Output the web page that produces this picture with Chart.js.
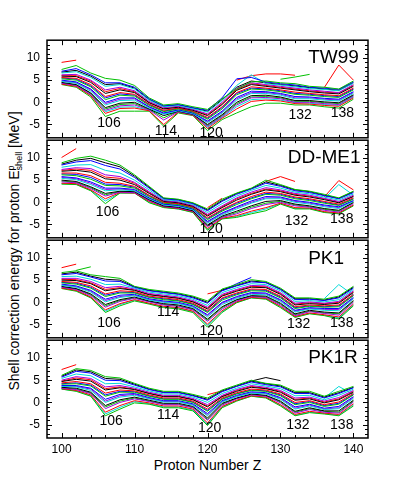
<!DOCTYPE html>
<html><head><meta charset="utf-8">
<script src="https://cdn.jsdelivr.net/npm/chart.js@4.4.0/dist/chart.umd.min.js"></script>
<style>
html,body{margin:0;padding:0;background:#fff;width:409px;height:502px;overflow:hidden;position:relative;font-family:"Liberation Sans",Arial,sans-serif;color:#000;}
canvas{position:absolute;left:0;}
#ytitle{position:absolute;left:14px;top:251px;transform:translate(-50%,-50%) rotate(-90deg);white-space:nowrap;font-size:14px;line-height:18px;}
#xtitle{position:absolute;left:207.5px;top:465px;transform:translate(-50%,-50%);font-size:14px;white-space:nowrap;}
.ss{display:inline-block;vertical-align:-3px;font-size:9px;line-height:8px;text-align:left;}
.ss span{display:block;}
</style></head>
<body>
<div id="ytitle">Shell correction energy for proton E<span class="ss"><span>p</span><span>shell</span></span> [MeV]</div>
<div id="xtitle">Proton Number Z</div>
<script>
// ---------- data ----------
const Z = [100,102,104,106,108,110,112,114,116,118,120,122,124,126,128,130,132,134,136,138,140];
const X_TICKS = [100,110,120,130,140];
const Y_TICKS = [-5,0,5,10];

const TW99 = [
 [7.4,8.3,6.6,5.4,5.0,3.8,1.0,-0.6,-0.3,-1.0,-1.6,0.8,3.0,4.6,4.8,4.4,4.2,3.6,3.4,3.0,4.8],
 [7.0,7.6,6.2,4.4,4.4,3.4,0.8,-0.8,-0.5,-1.2,-1.8,1.0,5.3,5.6,4.6,4.2,3.9,3.4,3.2,2.9,4.6],
 [6.6,6.9,5.6,3.6,4.0,3.0,0.5,-1.0,-0.7,-1.4,-2.2,0.4,3.8,6.2,4.2,3.9,3.5,3.1,2.9,2.6,4.3],
 [6.2,6.3,5.0,2.8,3.4,2.6,0.2,-1.2,-0.9,-1.6,-2.6,0.0,3.2,4.4,4.0,3.6,3.2,2.8,2.5,2.2,4.0],
 [5.9,5.8,4.5,2.0,2.8,2.2,-0.1,-1.5,-1.1,-1.8,-3.0,-0.5,2.7,4.0,3.6,3.2,2.8,2.4,2.1,1.9,3.6],
 [5.6,5.4,4.0,1.3,2.2,1.8,-0.4,-1.8,-1.3,-2.0,-3.4,-1.0,2.2,3.5,3.2,2.8,2.3,2.0,1.7,1.5,3.2],
 [5.3,5.0,3.5,0.6,1.6,1.4,-0.7,-2.1,-1.5,-2.2,-3.8,-1.5,1.7,3.0,2.8,2.4,1.8,1.6,1.3,1.1,2.8],
 [5.0,4.6,3.0,0.0,1.0,1.0,-1.0,-2.4,-1.7,-2.4,-4.2,-2.0,1.1,2.5,2.4,2.0,1.3,1.2,0.9,0.7,2.4],
 [4.7,4.3,2.5,-0.6,0.4,0.5,-1.3,-2.7,-1.9,-2.6,-4.6,-2.4,0.5,2.0,2.0,1.6,0.8,0.8,0.5,0.3,2.0],
 [4.5,4.0,2.1,-1.2,-0.2,0.0,-1.5,-3.0,-2.0,-2.7,-5.0,-2.8,0.0,1.5,1.6,1.2,0.4,0.4,0.1,-0.1,1.7],
 [4.3,3.8,1.8,-1.8,-0.8,-0.6,-1.7,-4.0,-2.1,-2.8,-5.4,-3.2,-0.6,1.0,1.1,0.8,0.0,0.0,-0.3,-0.5,1.4],
 [4.1,3.6,1.5,-2.5,-1.4,-1.3,-1.9,-5.0,-2.2,-2.9,-5.9,-3.6,-1.5,0.2,0.5,0.3,-0.3,-0.4,-0.7,-0.9,1.0],
 [4.0,3.4,1.2,-3.2,-2.0,-2.0,-2.0,-5.4,-2.4,-3.0,-6.4,-3.9,-2.4,-1.0,-0.2,-0.2,-0.6,-0.6,-1.0,-1.3,0.7],
 [6.8,7.2,5.9,4.0,4.2,3.2,0.6,-0.9,-0.6,-1.3,-2.0,0.6,3.4,4.8,4.4,4.0,3.7,3.3,3.0,2.7,4.4],
 [6.0,6.0,4.8,2.4,3.1,2.4,0.0,-1.4,-1.0,-1.7,-2.8,-0.3,2.9,4.2,3.8,3.4,3.0,2.6,2.3,2.1,3.8],
 [5.5,5.2,3.7,1.0,1.9,1.6,-0.5,-2.0,-1.4,-2.1,-3.6,-1.2,2.0,3.2,3.0,2.6,2.0,1.8,1.5,1.3,3.0],
 [4.8,4.4,2.8,-0.3,0.7,0.8,-1.1,-2.5,-1.8,-2.5,-4.4,-2.2,0.8,2.2,2.2,1.8,1.0,1.0,0.7,0.5,2.2],
 [4.4,3.9,2.0,-1.5,-0.5,-0.3,-1.6,-3.5,-2.0,-2.7,-5.2,-3.0,-0.3,1.2,1.3,1.0,0.2,0.2,-0.1,-0.3,1.5],
 [4.2,3.7,1.6,-2.1,-1.1,-1.0,-1.8,-2.6,-2.3,-2.8,-5.6,-3.4,-1.0,0.6,0.8,0.5,-0.1,-0.2,-0.5,-0.7,1.2]
];
const TW99_EX_Z = [[100,102],[124,126,128,130,132],[130,132,134],[136,138,140]];
const TW99_EX_E = [[9.0,9.5],[5.0,6.0,6.4,6.4,6.1],[5.2,5.7,6.3],[3.3,8.4,5.0]];

const DDME1 = [
 [8.9,9.9,10.4,9.5,8.4,6.2,3.6,1.0,0.7,-0.1,-1.5,0.7,2.1,3.2,5.0,4.0,2.9,2.5,1.8,1.0,2.5],
 [8.4,9.1,9.4,8.3,7.5,5.6,3.2,0.8,0.5,-0.3,-1.9,0.2,1.8,3.0,4.3,3.6,2.6,2.2,1.5,0.8,2.2],
 [7.9,8.4,8.5,7.2,6.6,5.0,2.8,0.6,0.3,-0.5,-2.3,-0.3,1.4,2.7,3.8,3.2,2.3,1.9,1.2,0.5,1.9],
 [7.4,7.8,7.6,6.2,5.8,4.5,2.4,0.4,0.1,-0.7,-2.7,-0.8,1.0,2.3,3.3,2.8,2.0,1.6,0.9,0.2,1.6],
 [7.0,7.2,6.8,5.3,5.0,4.0,2.0,0.2,-0.1,-0.9,-3.1,-1.2,0.5,1.8,2.8,2.4,1.6,1.2,0.6,-0.1,1.3],
 [6.6,6.6,6.0,4.5,4.3,3.6,1.6,0.0,-0.3,-1.1,-3.5,-1.6,0.0,1.3,2.3,2.0,1.2,0.8,0.2,-0.4,1.0],
 [6.2,6.0,5.2,3.8,3.7,3.2,1.3,-0.2,-0.5,-1.3,-3.9,-2.0,-0.5,0.8,1.8,1.6,0.8,0.4,-0.2,-0.7,0.7],
 [5.8,5.5,4.6,3.2,3.2,2.9,1.0,-0.4,-0.7,-1.5,-4.3,-2.4,-1.0,0.3,1.3,1.2,0.4,0.0,-0.6,-1.0,0.4],
 [5.4,5.1,4.0,2.6,2.8,2.6,0.8,-0.6,-0.9,-1.7,-4.7,-2.8,-1.5,-0.2,0.8,0.8,0.0,-0.4,-1.0,-1.4,0.2],
 [5.0,4.7,3.5,2.0,2.5,2.4,0.6,-0.8,-1.1,-1.9,-5.1,-3.1,-2.0,-0.8,0.2,0.4,-0.4,-0.8,-1.4,-1.8,0.0],
 [4.6,4.4,3.1,1.4,2.3,2.2,0.4,-0.9,-1.3,-2.0,-5.5,-3.4,-2.6,-1.4,-0.5,0.0,-0.8,-1.1,-1.8,-2.2,-0.3],
 [4.3,4.2,2.8,0.8,2.2,2.1,0.2,-1.0,-1.4,-2.1,-5.9,-3.6,-3.0,-2.0,-1.2,-0.2,-1.2,-1.3,-2.1,-2.4,-0.6],
 [4.1,4.0,2.6,-0.3,2.1,2.1,-0.1,-1.2,-1.5,-2.3,-6.3,-3.75,-3.4,-2.6,-1.9,-0.4,-1.5,-1.5,-2.3,-2.6,-0.8],
 [8.6,9.5,9.9,8.9,8.0,5.9,3.4,0.9,0.6,-0.2,-1.7,0.4,2.0,3.1,4.6,3.8,2.8,2.4,1.6,0.9,2.4],
 [7.2,7.5,7.2,5.7,5.4,4.3,2.2,0.3,0.0,-0.8,-2.9,-1.0,0.8,2.0,3.0,2.6,1.8,1.4,0.8,0.0,1.4],
 [6.4,6.3,5.6,4.1,4.0,3.4,1.5,-0.1,-0.4,-1.2,-3.7,-1.8,-0.2,1.0,2.0,1.8,1.0,0.6,0.0,-0.6,0.8],
 [5.6,5.3,4.3,2.9,3.0,2.7,0.9,-0.5,-0.8,-1.6,-4.5,-2.6,-1.2,0.0,1.0,1.0,0.2,-0.2,-0.8,-1.2,0.3],
 [4.8,4.5,3.3,1.7,2.4,2.3,0.5,-0.8,-1.2,-1.9,-5.3,-3.3,-2.3,-1.1,-0.2,0.2,-0.6,-1.0,-1.6,-2.0,-0.1],
 [4.2,4.1,2.7,0.3,2.1,2.1,0.0,-1.1,-1.5,-2.2,-6.1,-3.7,-3.2,-2.3,-1.5,-0.3,-1.4,-1.4,-2.2,-2.5,-0.7]
];
const DDME1_EX_Z = [[100,102],[120,122],[128,130,132],[136,138,140],[136,138,140]];
const DDME1_EX_E = [[10.1,12.1],[-1.2,0.9],[4.7,5.8,4.7],[1.2,4.9,2.8],[0.8,4.0,1.6]];

const PK1 = [
 [6.7,7.1,6.2,5.8,5.4,3.6,2.9,2.5,2.1,1.4,0.3,3.0,4.0,5.1,4.7,3.2,1.0,1.0,0.7,1.4,3.6],
 [6.2,6.5,5.7,4.8,4.7,3.4,2.6,2.2,1.8,1.0,-0.2,2.6,3.7,4.6,4.4,2.9,0.6,0.7,0.4,1.0,3.2],
 [5.8,5.9,5.2,4.0,4.1,3.2,2.3,1.9,1.5,0.7,-0.7,2.2,3.3,4.2,4.0,2.6,0.2,0.4,0.1,0.6,2.9],
 [5.4,5.4,4.7,3.3,3.6,3.0,2.0,1.6,1.2,0.4,-1.1,1.8,2.9,3.8,3.7,2.2,-0.2,0.1,-0.2,0.2,2.6],
 [5.0,4.9,4.2,2.6,3.1,2.7,1.7,1.3,0.9,0.1,-1.5,1.4,2.5,3.4,3.3,1.8,-0.6,-0.3,-0.5,-0.2,2.2],
 [4.7,4.5,3.7,1.9,2.6,2.4,1.4,1.0,0.6,-0.2,-1.9,1.0,2.1,3.0,2.9,1.4,-1.0,-0.6,-0.8,-0.6,1.8],
 [4.4,4.1,3.2,1.3,2.1,2.1,1.1,0.6,0.3,-0.5,-2.3,0.5,1.7,2.6,2.5,1.0,-1.4,-0.9,-1.1,-1.0,1.5],
 [4.1,3.7,2.7,0.7,1.6,1.8,0.8,0.3,0.0,-0.8,-2.8,0.0,1.3,2.2,2.1,0.6,-1.8,-1.2,-1.4,-1.4,1.1],
 [3.8,3.4,2.3,0.1,1.1,1.5,0.5,0.0,-0.3,-1.1,-3.3,-0.5,0.9,1.8,1.7,0.2,-2.2,-1.5,-1.8,-1.9,0.8],
 [3.6,3.1,1.9,-0.5,0.6,1.2,0.3,-0.3,-0.6,-1.4,-3.8,-1.0,0.6,1.5,1.4,-0.2,-2.6,-1.8,-2.2,-2.4,0.4],
 [3.4,2.9,1.5,-1.1,0.2,0.9,0.1,-0.6,-0.9,-1.7,-4.3,-1.5,0.3,1.3,1.1,-0.6,-3.0,-2.1,-2.5,-2.9,0.0],
 [3.2,2.7,1.2,-1.7,-0.3,0.6,-0.2,-0.9,-1.2,-2.0,-4.9,-1.9,0.1,1.1,0.9,-0.9,-3.2,-2.4,-2.8,-3.3,-0.4],
 [3.1,2.5,1.0,-2.3,-0.8,0.3,-0.4,-1.2,-1.5,-2.3,-5.6,-2.3,-0.1,1.0,0.7,-1.2,-3.4,-2.6,-3.0,-3.75,-0.8],
 [6.4,6.8,5.9,5.2,5.0,3.5,2.7,2.3,1.9,1.2,0.0,2.8,3.8,4.8,4.5,3.0,0.8,0.8,0.5,1.2,3.4],
 [5.2,5.1,4.4,2.9,3.3,2.8,1.8,1.4,1.0,0.2,-1.3,1.6,2.7,3.6,3.5,2.0,-0.4,-0.1,-0.3,0.0,2.4],
 [4.5,4.3,3.4,1.6,2.3,2.2,1.2,0.8,0.4,-0.4,-2.1,0.8,1.9,2.8,2.7,1.2,-1.2,-0.8,-1.0,-0.8,1.6],
 [3.9,3.5,2.5,0.4,1.3,1.6,0.6,0.1,-0.2,-1.0,-3.0,-0.2,1.1,2.0,1.9,0.4,-2.0,-1.4,-1.6,-1.6,0.9],
 [3.5,3.0,1.7,-0.8,0.4,1.0,0.2,-0.5,-0.8,-1.6,-4.0,-1.2,0.5,1.4,1.2,-0.4,-2.8,-2.0,-2.4,-2.6,0.2],
 [3.3,2.6,1.1,-2.0,-0.5,0.5,-0.3,-1.0,-1.3,-2.1,-5.2,-2.1,0.0,1.0,0.8,-1.0,-3.3,-2.5,-2.9,-3.5,-0.6]
];
const PK1_EX_Z = [[100,102],[102,104],[122,124,126],[120,122],[136,138,140]];
const PK1_EX_E = [[7.8,8.6],[7.2,8.0],[2.6,4.2,5.6],[1.9,2.7],[0.8,4.0,1.6]];

const PK1R = [
 [6.1,7.6,7.2,5.8,5.5,4.3,3.2,2.5,2.5,1.8,1.0,2.8,3.9,5.0,4.3,3.9,2.5,2.5,1.4,2.5,3.6],
 [5.7,7.0,6.6,5.0,4.9,3.9,2.9,2.2,2.2,1.5,0.5,2.4,3.6,4.6,4.0,3.5,2.0,2.0,1.0,2.0,3.3],
 [5.4,6.4,6.0,4.2,4.3,3.5,2.6,1.9,1.9,1.2,0.0,2.0,3.2,4.2,3.7,3.1,1.5,1.6,0.6,1.6,3.0],
 [5.0,5.8,5.4,3.5,3.8,3.2,2.3,1.6,1.6,0.9,-0.5,1.6,2.9,3.8,3.4,2.7,1.0,1.2,0.3,1.1,2.7],
 [4.7,5.2,4.8,2.8,3.3,2.9,2.0,1.3,1.3,0.6,-1.0,1.3,2.5,3.4,3.1,2.3,0.5,0.8,-0.1,0.6,2.3],
 [4.4,4.7,4.2,2.1,2.8,2.6,1.7,1.0,1.0,0.3,-1.5,1.0,2.2,3.0,2.8,1.9,0.0,0.4,-0.5,0.1,2.0],
 [4.1,4.2,3.7,1.4,2.3,2.3,1.4,0.7,0.7,0.0,-2.0,0.7,1.9,2.7,2.5,1.5,-0.5,0.0,-0.9,-0.4,1.7],
 [3.8,3.8,3.2,0.7,1.8,2.0,1.1,0.4,0.4,-0.3,-2.5,0.4,1.6,2.4,2.2,1.1,-1.0,-0.4,-1.3,-0.9,1.3],
 [3.6,3.5,2.7,0.0,1.2,1.6,0.8,0.1,0.1,-0.6,-3.0,0.1,1.3,2.1,1.9,0.7,-1.5,-0.8,-1.6,-1.4,0.9],
 [3.4,3.2,2.3,-0.7,0.6,1.2,0.5,-0.2,-0.2,-0.9,-3.5,-0.2,1.0,1.9,1.6,0.3,-2.0,-1.2,-1.9,-1.9,0.5],
 [3.2,2.9,2.0,-1.4,0.0,0.8,0.2,-0.5,-0.5,-1.2,-4.0,-0.6,0.8,1.7,1.4,-0.1,-2.4,-1.6,-2.2,-2.4,0.1],
 [3.1,2.7,1.7,-2.2,-0.7,0.4,-0.1,-0.8,-0.8,-1.5,-4.6,-0.9,0.5,1.5,1.2,-0.5,-2.7,-2.0,-2.4,-2.7,-0.3],
 [3.0,2.5,1.4,-3.0,-1.5,-0.1,-0.4,-1.2,-1.2,-1.9,-5.2,-1.2,0.3,1.4,1.0,-0.8,-3.0,-2.3,-2.6,-3.0,-0.8],
 [5.9,7.3,6.9,5.4,5.2,4.1,3.0,2.3,2.3,1.6,0.7,2.6,3.7,4.8,4.2,3.7,2.2,2.2,1.2,2.2,3.4],
 [4.8,5.5,5.1,3.1,3.5,3.0,2.1,1.4,1.4,0.7,-0.8,1.4,2.7,3.6,3.2,2.5,0.7,1.0,0.1,0.8,2.5],
 [4.2,4.4,3.9,1.7,2.5,2.4,1.5,0.8,0.8,0.1,-1.8,0.8,2.0,2.8,2.6,1.7,-0.3,0.2,-0.7,-0.2,1.8],
 [3.7,3.6,3.0,0.3,1.5,1.8,0.9,0.2,0.2,-0.5,-2.8,0.2,1.4,2.2,2.0,0.9,-1.3,-0.6,-1.5,-1.2,1.1],
 [3.3,3.0,2.1,-1.0,0.3,1.0,0.3,-0.4,-0.4,-1.1,-3.8,-0.4,0.9,1.8,1.5,0.1,-2.2,-1.4,-2.0,-2.2,0.3],
 [3.0,2.6,1.5,-2.6,-1.1,0.2,-0.3,-1.0,-1.0,-1.7,-4.9,-1.0,0.4,1.4,1.1,-0.6,-2.9,-2.2,-2.5,-2.9,-0.5]
];
const PK1R_EX_Z = [[100,102],[120,122],[126,128,130],[136,138,140]];
const PK1R_EX_E = [[7.4,8.5],[1.75,2.6],[4.8,5.6,4.9],[1.0,3.6,1.8]];

const MODELS = ['TW99','DD-ME1','PK1','PK1R'];
const MAGIC_TEXT = ['106','114','120','132','138'];

// ---------- styles / placement ----------
const LINE_COLORS = ['#00c000','#0000ff','#00d8d8','#a000e0','#000000','#ff0000','#00c000','#0000ff','#00d8d8','#000000','#a000e0','#ff0000','#00c000',
                     '#000000','#ff0000','#0000ff','#a000e0','#00c000','#00d8d8'];
const EX_COLORS = [
  ['#ff0000','#ff0000','#00c000','#ff0000'],
  ['#ff0000','#ff0000','#ff0000','#ff0000','#00d8d8'],
  ['#ff0000','#00c000','#0000ff','#ff0000','#00d8d8'],
  ['#ff0000','#ff0000','#000000','#00d8d8']
];
const NAME_POS = [[133.8,10],[131.0,10.1],[133.8,9.9],[133.8,10.1]];
const MAGIC_POS = [
  [[106.5,-4.66],[114.3,-6.5],[120.5,-7.0],[132.7,-2.8],[138.5,-2.5]],
  [[106.3,-2.2],null,[120.5,-6.1],[132.2,-4.3],[138.4,-3.9]],
  [[106.5,-4.7],[114.6,-2.2],[120.5,-6.5],[132.5,-5.0],[138.4,-4.7]],
  [[106.8,-4.3],[114.6,-2.8],[120.3,-5.8],[132.4,-5.1],[138.4,-5.1]]
];
const FONT = '"Liberation Sans", Arial, sans-serif';

const framePlugin = {
  id:'frame',
  afterDatasetsDraw(chart, args, o){
    const {ctx, chartArea:a, scales:{x, y}} = chart;
    ctx.save();
    ctx.strokeStyle = '#000';
    ctx.lineWidth = 1;
    ctx.beginPath();
    for (let v = 100; v <= 140; v += 2){
      const px = Math.round(x.getPixelForValue(v)) + 0.5;
      const L = v % 10 === 0 ? 5 : 3;
      ctx.moveTo(px, a.bottom); ctx.lineTo(px, a.bottom - L);
      ctx.moveTo(px, a.top); ctx.lineTo(px, a.top + L);
    }
    for (let v = -7; v <= 13; v++){
      const py = Math.round(y.getPixelForValue(v)) + 0.5;
      const L = v % 5 === 0 ? 5 : 3;
      ctx.moveTo(a.left, py); ctx.lineTo(a.left + L, py);
      ctx.moveTo(a.right, py); ctx.lineTo(a.right - L, py);
    }
    ctx.stroke();
    ctx.lineWidth = 1.5;
    ctx.strokeRect(a.left, a.top, a.right - a.left, a.bottom - a.top);
    ctx.fillStyle = '#000';
    ctx.textBaseline = 'middle';
    ctx.textAlign = 'center';
    ctx.font = '14px ' + FONT;
    o.magic.forEach((p, i) => {
      if (!p) return;
      ctx.fillText(MAGIC_TEXT[i], x.getPixelForValue(p[0]), y.getPixelForValue(p[1]));
    });
    ctx.textAlign = 'left';
    ctx.font = '19px ' + FONT;
    ctx.fillText(o.name, x.getPixelForValue(o.namePos[0]), y.getPixelForValue(o.namePos[1]));
    ctx.restore();
  }
};

function makePanel(idx, lines, exZ, exE){
  const isLast = idx === 3;
  const H = 12 + 100 + (isLast ? 24 : 14);
  const cv = document.createElement('canvas');
  cv.width = 409; cv.height = H;
  cv.style.width = '409px'; cv.style.height = H + 'px';
  cv.style.top = (38 + 100 * idx - 12) + 'px';
  document.body.appendChild(cv);

  const ds = lines.map((arr, i) => ({
    data: Z.map((z, j) => ({x: z, y: arr[j]})).filter(p => p.y !== null),
    borderColor: LINE_COLORS[i % LINE_COLORS.length],
    borderWidth: 1, pointRadius: 0, tension: 0, fill: false
  }));
  exZ.forEach((zs, k) => {
    ds.push({
      data: zs.map((z, j) => ({x: z, y: exE[k][j]})),
      borderColor: EX_COLORS[idx][k], borderWidth: 1, pointRadius: 0, tension: 0, fill: false
    });
  });

  new Chart(cv, {
    type: 'line',
    data: {datasets: ds},
    options: {
      responsive: false, animation: false, devicePixelRatio: 1,
      layout: {padding: {top: 12, bottom: isLast ? 2 : 14, left: 0, right: 41}},
      plugins: {
        legend: {display: false}, tooltip: {enabled: false},
        frame: {name: MODELS[idx], namePos: NAME_POS[idx], magic: MAGIC_POS[idx]}
      },
      scales: {
        x: {
          type: 'linear', min: 98, max: 142, display: isLast,
          afterBuildTicks: s => { s.ticks = X_TICKS.map(v => ({value: v})); },
          afterFit: s => { s.height = isLast ? 22 : 0; },
          grid: {display: false, drawTicks: false}, border: {display: false},
          ticks: {padding: 4, color: '#000', font: {family: FONT, size: 12}, maxRotation: 0, autoSkip: false}
        },
        y: {
          type: 'linear', min: -8, max: 14,
          afterBuildTicks: s => { s.ticks = Y_TICKS.map(v => ({value: v})); },
          afterFit: s => { s.width = 47; },
          grid: {display: false, drawTicks: false}, border: {display: false},
          ticks: {padding: 7, color: '#000', font: {family: FONT, size: 12}, autoSkip: false}
        }
      }
    },
    plugins: [framePlugin]
  });
}

makePanel(0, TW99, TW99_EX_Z, TW99_EX_E);
makePanel(1, DDME1, DDME1_EX_Z, DDME1_EX_E);
makePanel(2, PK1, PK1_EX_Z, PK1_EX_E);
makePanel(3, PK1R, PK1R_EX_Z, PK1R_EX_E);
</script>
</body></html>
